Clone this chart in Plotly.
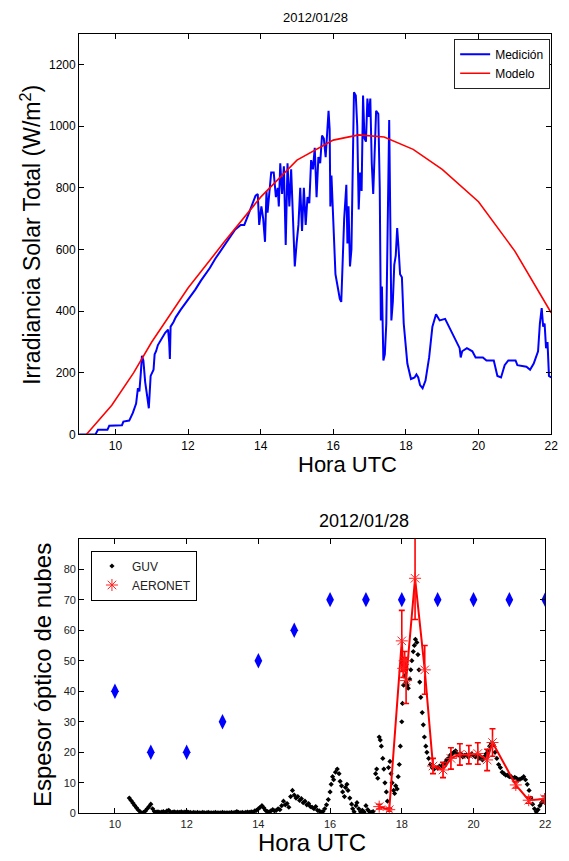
import plotly.graph_objects as go

# ---------------- Top panel data ----------------
med_hora = [9.0, 9.45, 9.52, 9.78, 9.83, 10.18, 10.22, 10.38, 10.48, 10.57, 10.62, 10.66, 10.7, 10.73,
            10.77, 10.82, 10.88, 10.92, 10.97, 11.02, 11.05, 11.08, 11.12, 11.17, 11.22, 11.3, 11.37,
            11.45, 11.48, 11.5, 11.52, 11.6, 11.66, 11.8, 11.96, 12.2, 12.36, 12.6, 12.75, 13.0, 13.15,
            13.3, 13.45, 13.55, 13.65, 13.74, 13.86, 13.92, 13.96, 14.02, 14.07, 14.12, 14.16, 14.19,
            14.24, 14.29, 14.36, 14.42, 14.47, 14.5, 14.54, 14.59, 14.64, 14.69, 14.74, 14.79, 14.84,
            14.89, 14.94, 14.99, 15.04, 15.09, 15.14, 15.19, 15.24, 15.29, 15.34, 15.39, 15.44, 15.49,
            15.54, 15.59, 15.64, 15.69, 15.74, 15.79, 15.84, 15.87, 15.9, 15.92, 15.95, 15.98, 16.02,
            16.06, 16.12, 16.18, 16.22, 16.26, 16.3, 16.36, 16.39, 16.42, 16.46, 16.5, 16.54, 16.57,
            16.62, 16.66, 16.7, 16.74, 16.78, 16.82, 16.86, 16.9, 16.94, 16.98, 17.02, 17.06, 17.1,
            17.14, 17.18, 17.24, 17.28, 17.31, 17.34, 17.38, 17.42, 17.46, 17.5, 17.54, 17.57, 17.6,
            17.64, 17.68, 17.72, 17.76, 17.8, 17.84, 17.89, 17.94, 18.04, 18.14, 18.24, 18.29, 18.34,
            18.39, 18.46, 18.54, 18.64, 18.73, 18.83, 18.93, 19.08, 19.23, 19.38, 19.48, 19.51, 19.55,
            19.68, 19.83, 19.92, 20.12, 20.22, 20.42, 20.52, 20.62, 20.72, 20.82, 21.02, 21.07, 21.32,
            21.42, 21.52, 21.64, 21.69, 21.74, 21.78, 21.82, 21.86, 21.9, 21.94, 22.0]
med_irr = [0, 0, 15, 15, 28, 30, 42, 45, 70, 100, 150, 140, 200, 255,
           240, 170, 120, 85, 190, 200, 210, 260, 270, 290, 300, 320, 330,
           340, 300, 245, 350, 365, 380, 405, 430, 470, 500, 540, 570, 615, 640,
           665, 680, 680, 710, 740, 775, 780, 680, 740, 700, 625, 790, 720,
           790, 850, 850, 770, 800, 740, 880, 780, 870, 615, 880, 740, 860,
           700, 545, 620, 680, 800, 660, 800, 680, 770, 750, 890, 860, 930,
           770, 900, 880, 970, 960, 900, 1000, 1050, 990, 740, 840, 740, 640,
           520, 480, 440, 430, 560, 700, 810, 620, 740, 545, 600, 850, 1110,
           1100, 1000, 730, 850, 790, 1100, 960, 950, 1090, 1030, 1090, 880, 780,
           920, 1050, 1040, 800, 370, 480, 240, 260, 360, 700, 1020, 700, 370,
           430, 550, 580, 670, 600, 520, 510, 360, 230, 180, 185, 195, 185,
           160, 150, 175, 250, 350, 390, 370, 375, 340, 300, 280, 250, 270,
           280, 270, 250, 250, 240, 240, 190, 185, 225, 240, 240, 225, 220,
           210, 230, 270, 360, 410, 350, 360, 280, 300, 190, 185]

mod_hora = [9.2, 9.9, 10.5, 11.0, 12.0, 13.0, 14.0, 15.0, 16.0, 16.7, 17.4, 18.2, 19.0, 20.0, 21.0, 22.0]
mod_irr = [0, 95, 200, 300, 475, 625, 770, 890, 955, 972, 965, 925, 860, 755, 595, 395]

# ---------------- Bottom panel data ----------------
guv_hora = [10.4, 10.45, 10.5, 10.55, 10.6, 10.65, 10.7, 10.75, 10.8, 10.85, 10.9, 10.95, 11.0, 11.05, 11.1,
            11.15, 11.2, 11.25, 11.3, 11.35, 11.4, 11.45, 11.5, 11.55, 11.6, 11.65, 11.7, 11.75, 11.8, 11.85,
            11.9, 11.95, 12.0, 12.05, 12.1, 12.15, 12.2, 12.25, 12.3, 12.35, 12.4, 12.45, 12.5, 12.55, 12.6,
            12.65, 12.7, 12.75, 12.8, 12.85, 12.9, 12.95, 13.0, 13.05, 13.1, 13.15, 13.2, 13.25, 13.3, 13.35,
            13.4, 13.45, 13.5, 13.55, 13.6, 13.65, 13.7, 13.75, 13.8, 13.85, 13.9, 13.95,
            14.0, 14.05, 14.1, 14.15, 14.2, 14.25, 14.3, 14.35, 14.4, 14.45, 14.5, 14.55, 14.6, 14.65, 14.7,
            14.75, 14.8, 14.85, 14.9, 14.95, 15.0, 15.05, 15.1, 15.15, 15.2, 15.25, 15.3, 15.35, 15.4, 15.45,
            15.5, 15.55, 15.6, 15.65, 15.7, 15.75, 15.8, 15.85, 15.9, 15.95, 16.0, 16.03, 16.07, 16.1, 16.15,
            16.2, 16.25, 16.28, 16.32, 16.35, 16.4, 16.43, 16.47, 16.5, 16.55, 16.6, 16.63, 16.67, 16.72,
            16.75, 16.8, 16.85, 16.9, 16.95, 17.0, 17.05, 17.1, 17.15, 17.2, 17.27, 17.3, 17.33, 17.37, 17.4,
            17.43, 17.47, 17.5, 17.53, 17.57, 17.6, 17.63, 17.67, 17.7, 17.73, 17.77, 17.8, 17.83, 17.87, 17.9,
            17.93, 17.96, 18.0, 18.02, 18.05, 18.08, 18.12, 18.15, 18.18, 18.22, 18.25, 18.28, 18.32, 18.35,
            18.38, 18.42, 18.45, 18.48, 18.5, 18.53, 18.57, 18.6, 18.63, 18.67, 18.7, 18.75, 18.8, 18.85, 18.9,
            18.95, 19.0, 19.05, 19.1, 19.15, 19.2, 19.25, 19.3, 19.35, 19.4, 19.45, 19.5, 19.55, 19.6, 19.65,
            19.7, 19.75, 19.8, 19.85, 19.9, 19.95, 20.0, 20.05, 20.1, 20.15, 20.2, 20.25, 20.3, 20.35, 20.4,
            20.45, 20.5, 20.55, 20.6, 20.65, 20.7, 20.75, 20.8, 20.85, 20.9, 20.95, 21.0, 21.05, 21.1, 21.15,
            21.2, 21.25, 21.3, 21.35, 21.4, 21.45, 21.5, 21.55, 21.6, 21.65, 21.7, 21.75, 21.8, 21.85, 21.9,
            21.95, 22.0]
guv_cot = [5.0, 4.2, 3.4, 2.6, 1.8, 1.1, 0.5, 0.2, 0.3, 0.8, 1.5, 2.2, 3.0, 1.5, 0.6,
           0.4, 0.5, 0.3, 0.4, 0.6, 0.3, 0.8, 1.0, 0.4, 0.3, 0.5, 0.3, 0.4, 0.3, 0.5,
           0.3, 0.4, 0.6, 0.3, 0.3, 0.2, 0.3, 0.2, 0.3, 0.2, 0.2, 0.3, 0.2, 0.2, 0.3,
           0.2, 0.2, 0.2, 0.3, 0.2, 0.2, 0.2, 0.3, 0.2, 0.2, 0.2, 0.2, 0.3, 0.2, 0.3,
           0.6, 0.3, 0.2, 0.3, 0.2, 0.3, 0.4, 0.3, 0.5, 0.4, 0.8, 1.0,
           1.5, 2.0, 2.5, 1.8, 1.0, 0.6, 0.5, 0.8, 1.2, 0.8, 1.0, 1.5, 1.2, 2.5, 4.0,
           2.8, 3.2, 2.0, 5.5, 7.5, 6.0, 5.0, 5.5, 4.2, 4.8, 3.5, 4.0, 2.8, 3.2, 2.2,
           2.0, 1.5, 2.2, 1.0, 0.8, 0.4, 0.6, 1.5, 2.8, 4.5, 7.0, 9.5, 12.0, 11.0, 13.5,
           14.5, 13.0, 10.5, 9.0, 7.0, 5.5, 8.5, 9.5, 7.5, 5.0, 3.0, 1.5, 0.5, 2.5,
           3.5, 1.5, 0.5, 1.0, 0.4, 2.5, 1.2, 0.5, 0.3, 0.6, 13.0, 14.5, 11.5, 25.0, 24.0,
           22.0, 18.0, 14.5, 10.0, 7.0, 4.0, 15.0, 17.0, 13.0, 10.0, 7.5, 6.5, 9.0, 8.0, 12.0,
           16.0, 22.0, 30.0, 36.0, 42.0, 45.0, 43.0, 42.0, 41.0, 44.0, 47.0, 50.0, 53.0, 55.0,
           57.0, 56.0, 52.0, 47.0, 43.0, 38.0, 33.0, 29.0, 25.0, 22.0, 20.0, 18.0, 16.0, 15.0, 14.5,
           15.0, 14.8, 15.5, 15.0, 16.0, 16.5, 17.5, 18.0, 19.0, 19.5, 20.0, 20.5, 19.5, 19.0, 19.5,
           18.5, 19.0, 19.2, 18.5, 19.0, 19.5, 19.0, 18.5, 19.0, 18.0, 18.5, 17.5, 18.5, 19.5, 20.5,
           22.0, 23.0, 22.5, 20.0, 18.0, 16.0, 15.0, 13.5, 13.0, 12.5, 12.5, 12.0, 12.0, 11.5, 11.8,
           11.5, 11.0, 11.2, 11.5, 12.0, 11.0, 9.5, 7.5, 5.0, 3.0, 1.5, 0.5, 1.2, 2.5, 3.5,
           4.0, 4.5]

aer_hora = [17.37, 17.65, 18.0, 18.04, 18.08, 18.12, 18.37, 18.64, 18.87, 19.15, 19.37, 19.62, 19.87,
            20.12, 20.38, 20.53, 21.18, 21.54, 21.98]
aer_cot = [2.2, 1.2, 56.5, 47.5, 50.0, 43.5, 77.0, 47.0, 15.5, 14.2, 18.0, 19.3, 19.2,
           19.6, 17.5, 23.2, 9.3, 4.3, 4.7]
aer_err = [0.8, 0.5, 10.0, 3.0, 3.0, 7.5, 13.5, 8.0, 2.5, 2.5, 3.5, 3.5, 3.0,
           3.5, 3.5, 4.5, 1.0, 1.0, 1.0]

ref_hora = [10, 11, 12, 13, 14, 15, 16, 17, 18, 19, 20, 21, 22]
ref_cot = [40, 20, 20, 30, 50, 60, 70, 70, 70, 70, 70, 70, 70]

# The page body has an 8 px default margin; positions below are given in
# window pixels and converted into the figure's own paper space.
OFF = 8
W, H = 569 - OFF, 861 - OFF
FONT = "Liberation Sans, Arial, sans-serif"

def px_x(p):
    return (p - OFF) / W

def px_y(p):
    return 1 - (p - OFF) / H

fig = go.Figure()

# top traces
fig.add_trace(go.Scatter(x=med_hora, y=med_irr, mode="lines", name="Medición",
                         line=dict(color="#0000ff", width=2), xaxis="x", yaxis="y",
                         legend="legend"))
fig.add_trace(go.Scatter(x=mod_hora, y=mod_irr, mode="lines", name="Modelo",
                         line=dict(color="#ff0000", width=1.6), xaxis="x", yaxis="y",
                         legend="legend"))

# bottom traces
fig.add_trace(go.Scatter(x=ref_hora, y=ref_cot, mode="markers", showlegend=False,
                         marker=dict(symbol="diamond-tall", size=11, color="#0000ff"),
                         xaxis="x2", yaxis="y2"))
fig.add_trace(go.Scatter(x=guv_hora, y=guv_cot, mode="markers", name="GUV",
                         marker=dict(symbol="diamond", size=4, color="#000000"),
                         xaxis="x2", yaxis="y2", legend="legend2"))
fig.add_trace(go.Scatter(x=aer_hora, y=aer_cot, mode="lines+markers", name="AERONET",
                         showlegend=False,
                         line=dict(color="#ff0000", width=2),
                         marker=dict(symbol="asterisk-open", size=10, color="#ff2020",
                                     line=dict(color="#ff2020", width=1)),
                         error_y=dict(type="data", array=aer_err, visible=True,
                                      color="#ff0000", thickness=1.6, width=3),
                         xaxis="x2", yaxis="y2"))
fig.add_trace(go.Scatter(x=[None], y=[None], mode="markers", name="AERONET",
                         marker=dict(symbol="asterisk-open", size=10, color="#ff2020",
                                     line=dict(color="#ff2020", width=1)),
                         xaxis="x2", yaxis="y2", legend="legend2"))

axis_common = dict(showline=True, linecolor="#000000", linewidth=1, mirror="ticks",
                   ticks="inside", ticklen=5, tickcolor="#000000", showgrid=False,
                   zeroline=False, tickfont=dict(family=FONT, size=12, color="#000000"))
bottom_ticks = {**axis_common, "tickfont": dict(family=FONT, size=11, color="#222222")}

fig.update_layout(
    width=W, height=H,
    margin=dict(l=0, r=0, t=0, b=0),
    paper_bgcolor="white", plot_bgcolor="white",
    xaxis=dict(domain=[px_x(80), px_x(558)], range=[9, 22], tickvals=[10, 12, 14, 16, 18, 20, 22],
               anchor="y", **axis_common),
    yaxis=dict(domain=[px_y(438), px_y(34)], range=[0, 1300],
               tickvals=[0, 200, 400, 600, 800, 1000, 1200], anchor="x", **axis_common),
    xaxis2=dict(domain=[px_x(80), px_x(552)], range=[9, 22], tickvals=[10, 12, 14, 16, 18, 20, 22],
                anchor="y2", **bottom_ticks),
    yaxis2=dict(domain=[px_y(820), px_y(543)], range=[0, 90],
                tickvals=[0, 10, 20, 30, 40, 50, 60, 70, 80], anchor="x2", **bottom_ticks),
    legend=dict(x=px_x(557), y=px_y(39), xanchor="right", yanchor="top",
                bgcolor="white", bordercolor="#222222", borderwidth=1,
                font=dict(family=FONT, size=12, color="#000000"),
                tracegroupgap=0, itemwidth=30),
    legend2=dict(x=px_x(92), y=px_y(555), xanchor="left", yanchor="top",
                 bgcolor="white", bordercolor="#000000", borderwidth=1,
                 font=dict(family=FONT, size=12, color="#222222"),
                 tracegroupgap=0, itemwidth=30),
    showlegend=True,
)

ann = [
    dict(text="2012/01/28", x=px_x(319), y=px_y(18), size=13),
    dict(text="Hora UTC", x=px_x(352), y=px_y(468), size=22),
    dict(text="Irradiancia Solar Total (W/m<sup>2</sup>)", x=px_x(31), y=px_y(237), size=23, angle=-90),
    dict(text="2012/01/28", x=px_x(368), y=px_y(525), size=18),
    dict(text="Hora UTC", x=px_x(316), y=px_y(849), size=24),
    dict(text="Espesor óptico de nubes", x=px_x(43), y=px_y(681), size=24, angle=-90),
]
for a in ann:
    fig.add_annotation(text=a["text"], x=a["x"], y=a["y"], xref="paper", yref="paper",
                       xanchor="center", yanchor="middle", showarrow=False,
                       textangle=a.get("angle", 0),
                       font=dict(family=FONT, size=a["size"], color="#000000"))

fig.write_html("out.html")
